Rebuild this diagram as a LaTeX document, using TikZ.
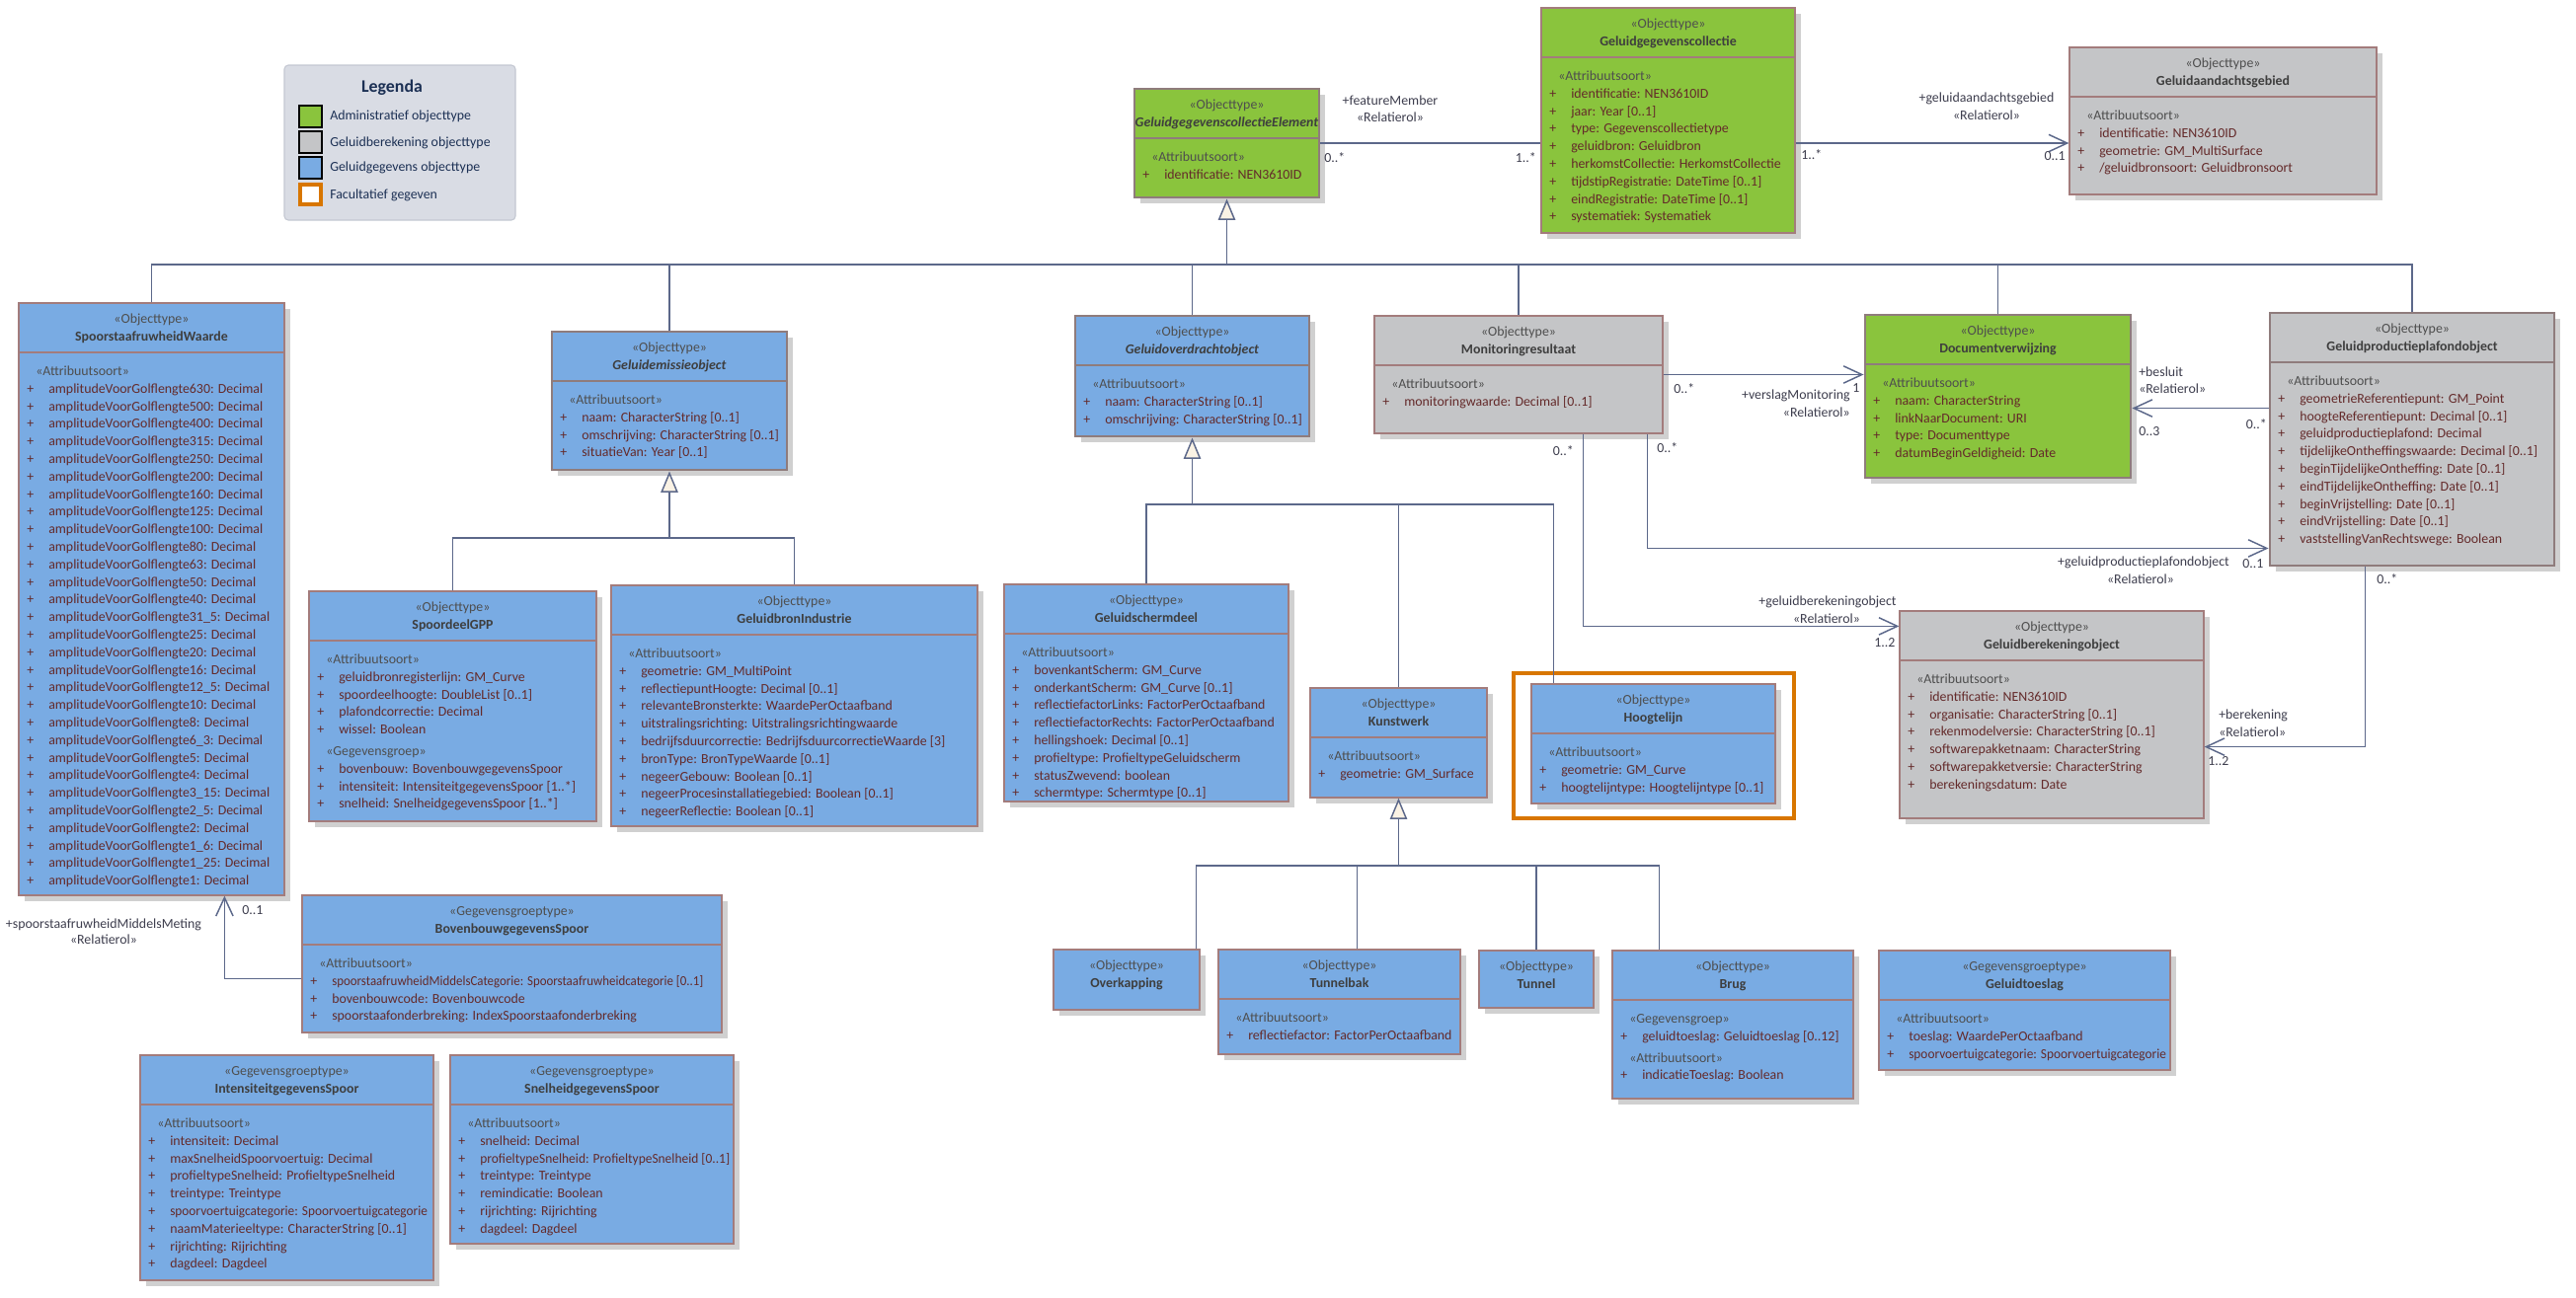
\documentclass[tikz,border=0pt]{standalone}
\usepackage{fontspec}
\setmainfont{Carlito}
\usetikzlibrary{arrows.meta,fit,calc}
\definecolor{cblue}{RGB}{121,171,227}
\definecolor{cgreen}{RGB}{138,196,61}
\definecolor{cgray}{RGB}{196,197,199}
\definecolor{cborder}{RGB}{163,124,124}
\definecolor{cthick}{RGB}{143,124,124}
\definecolor{cshadow}{RGB}{208,208,208}
\definecolor{cline}{RGB}{92,104,138}
\definecolor{cattr}{RGB}{100,42,42}
\definecolor{cster}{RGB}{78,78,78}
\definecolor{cname}{RGB}{62,62,62}
\definecolor{clabel}{RGB}{62,62,78}
\definecolor{corange}{RGB}{216,118,0}
\definecolor{ctri}{RGB}{250,242,228}
\definecolor{clegbg}{RGB}{217,220,228}
\definecolor{clegbd}{RGB}{196,200,210}
\definecolor{clegtx}{RGB}{28,48,84}
\newcount\lblcnt
\newcommand\cls[9]{%
  \fill[cshadow] (#3+6,#4+6) rectangle (#5+6,#6+6);
  \node[fit={(#3,#4) (#5,#6)}, boxb, #2] (#1) {};
  \ifnum#9=1\relax \draw[boxb,#2,fill=none] (#3,#4+50) -- (#5,#4+50);\fi
  \global\advance\lblcnt by 1
  \node[ster] (h\the\lblcnt) at ({(#3+#5)/2},#4+20.5) {«#7»};
  \node[namet] (n\the\lblcnt) at ({(#3+#5)/2},#4+38.5) {#8};
  \def\lx{#3}\pgfmathsetmacro\ly{#4+73.5}%
}
\newcommand\St[1]{\global\advance\lblcnt by 1
  \node[sterl] (s\the\lblcnt) at (\lx+17,\ly) {«#1»};
  \pgfmathsetmacro\ly{\ly+17.8}}
\newcommand\At[1]{\global\advance\lblcnt by 1
  \node[plus] (p\the\lblcnt) at (\lx+8,\ly) {+};
  \node[attr] (a\the\lblcnt) at (\lx+30,\ly) {#1};
  \pgfmathsetmacro\ly{\ly+17.8}}
\newcommand\As[2]{\At{\scalebox{#1}[1]{#2}}}
\newcommand\Gp[1]{\pgfmathsetmacro\ly{\ly+#1}}
\newcommand\lab[4]{\global\advance\lblcnt by 1
  \node[lbl,anchor=#1] (q\the\lblcnt) at (#2,#3) {#4};}
\begin{document}
\begin{tikzpicture}[x=0.75pt,y=-0.75pt,
  every node/.style={font=\fontsize{10.4}{12}\selectfont, inner sep=0pt},
  boxb/.style={draw=cborder, line width=0.9pt},
  thickb/.style={draw=cthick, line width=2.2pt},
  ster/.style={anchor=base, text=cster},
  namet/.style={anchor=base, text=cname, font=\fontsize{10.4}{12}\selectfont\bfseries},
  sterl/.style={anchor=base west, text=cster},
  plus/.style={anchor=base west, text=cattr},
  attr/.style={anchor=base west, text=cattr},
  lbl/.style={text=clabel},
  conn/.style={draw=cline, line width=1.1pt},
  assoc/.style={conn, -{Straight Barb[length=14pt,width=13pt]}},
  gen/.style={conn, -{Triangle[length=16pt,width=13pt,fill=ctri]}}]
\fill[white] (0,0) rectangle (2609,1314);
\useasboundingbox (0,0) rectangle (2609,1314);

% ---------- legend ----------
\node[fit={(288,66) (522,223)}, fill=clegbg, draw=clegbd, line width=0.8pt, rounded corners=3pt] (legend) {};
\node[anchor=base, text=clegtx, font=\fontsize{13.4}{15}\selectfont\bfseries] (legtitle) at (397,93) {Legenda};
\node[fit={(303,107) (326,129)}, fill=cgreen, draw=black, line width=1.1pt] (sw1) {};
\node[fit={(303,133) (326,155)}, fill=cgray, draw=black, line width=1.1pt] (sw2) {};
\node[fit={(303,159) (326,181)}, fill=cblue, draw=black, line width=1.1pt] (sw3) {};
\node[fit={(304,187) (325,207)}, fill=white, draw=corange, line width=2.4pt] (sw4) {};
\node[anchor=base west, text=clegtx] (lg1) at (334,121.5) {Administratief objecttype};
\node[anchor=base west, text=clegtx] (lg2) at (334,148.5) {Geluidberekening objecttype};
\node[anchor=base west, text=clegtx] (lg3) at (334,173.5) {Geluidgegevens objecttype};
\node[anchor=base west, text=clegtx] (lg4) at (334,201.5) {Facultatief gegeven};

% ---------- classes ----------
\cls{spoor}{fill=cblue}{19}{307}{288}{907}{Objecttype}{SpoorstaafruwheidWaarde}{1}
\St{Attribuutsoort}
\At{amplitudeVoorGolflengte630: Decimal}
\At{amplitudeVoorGolflengte500: Decimal}
\At{amplitudeVoorGolflengte400: Decimal}
\At{amplitudeVoorGolflengte315: Decimal}
\At{amplitudeVoorGolflengte250: Decimal}
\At{amplitudeVoorGolflengte200: Decimal}
\At{amplitudeVoorGolflengte160: Decimal}
\At{amplitudeVoorGolflengte125: Decimal}
\At{amplitudeVoorGolflengte100: Decimal}
\At{amplitudeVoorGolflengte80: Decimal}
\At{amplitudeVoorGolflengte63: Decimal}
\At{amplitudeVoorGolflengte50: Decimal}
\At{amplitudeVoorGolflengte40: Decimal}
\At{amplitudeVoorGolflengte31\_5: Decimal}
\At{amplitudeVoorGolflengte25: Decimal}
\At{amplitudeVoorGolflengte20: Decimal}
\At{amplitudeVoorGolflengte16: Decimal}
\At{amplitudeVoorGolflengte12\_5: Decimal}
\At{amplitudeVoorGolflengte10: Decimal}
\At{amplitudeVoorGolflengte8: Decimal}
\At{amplitudeVoorGolflengte6\_3: Decimal}
\At{amplitudeVoorGolflengte5: Decimal}
\At{amplitudeVoorGolflengte4: Decimal}
\At{amplitudeVoorGolflengte3\_15: Decimal}
\At{amplitudeVoorGolflengte2\_5: Decimal}
\At{amplitudeVoorGolflengte2: Decimal}
\At{amplitudeVoorGolflengte1\_6: Decimal}
\At{amplitudeVoorGolflengte1\_25: Decimal}
\At{amplitudeVoorGolflengte1: Decimal}

\cls{emissie}{fill=cblue,thickb}{559}{336}{797}{476}{Objecttype}{\textit{Geluidemissieobject}}{1}
\St{Attribuutsoort}
\At{naam: CharacterString [0..1]}
\At{omschrijving: CharacterString [0..1]}
\At{situatieVan: Year [0..1]}

\cls{gpp}{fill=cblue}{313}{599}{604}{832}{Objecttype}{SpoordeelGPP}{1}
\St{Attribuutsoort}
\At{geluidbronregisterlijn: GM\_Curve}
\At{spoordeelhoogte: DoubleList [0..1]}
\At{plafondcorrectie: Decimal}
\At{wissel: Boolean}
\Gp{4}
\St{Gegevensgroep}
\At{bovenbouw: BovenbouwgegevensSpoor}
\At{intensiteit: IntensiteitgegevensSpoor [1..*]}
\At{snelheid: SnelheidgegevensSpoor [1..*]}

\cls{industrie}{fill=cblue}{619}{593}{990}{837}{Objecttype}{GeluidbronIndustrie}{1}
\St{Attribuutsoort}
\At{geometrie: GM\_MultiPoint}
\At{reflectiepuntHoogte: Decimal [0..1]}
\At{relevanteBronsterkte: WaardePerOctaafband}
\At{uitstralingsrichting: Uitstralingsrichtingwaarde}
\At{bedrijfsduurcorrectie: BedrijfsduurcorrectieWaarde [3]}
\At{bronType: BronTypeWaarde [0..1]}
\At{negeerGebouw: Boolean [0..1]}
\At{negeerProcesinstallatiegebied: Boolean [0..1]}
\At{negeerReflectie: Boolean [0..1]}

\cls{overdracht}{fill=cblue,thickb}{1089}{320}{1326}{442}{Objecttype}{\textit{Geluidoverdrachtobject}}{1}
\St{Attribuutsoort}
\At{naam: CharacterString [0..1]}
\At{omschrijving: CharacterString [0..1]}

\cls{scherm}{fill=cblue}{1017}{592}{1305}{812}{Objecttype}{Geluidschermdeel}{1}
\St{Attribuutsoort}
\At{bovenkantScherm: GM\_Curve}
\At{onderkantScherm: GM\_Curve [0..1]}
\At{reflectiefactorLinks: FactorPerOctaafband}
\At{reflectiefactorRechts: FactorPerOctaafband}
\At{hellingshoek: Decimal [0..1]}
\At{profieltype: ProfieltypeGeluidscherm}
\At{statusZwevend: boolean}
\At{schermtype: Schermtype [0..1]}

\cls{kunstwerk}{fill=cblue}{1327}{697}{1506}{808}{Objecttype}{Kunstwerk}{1}
\St{Attribuutsoort}
\At{geometrie: GM\_Surface}

\node[fit={(1533,682) (1817,829)}, draw=corange, line width=3pt] (facframe) {};
\cls{hoogtelijn}{fill=cblue}{1551}{693}{1798}{814}{Objecttype}{Hoogtelijn}{1}
\St{Attribuutsoort}
\At{geometrie: GM\_Curve}
\At{hoogtelijntype: Hoogtelijntype [0..1]}

\cls{ggce}{fill=cgreen,thickb}{1149}{90}{1336}{200}{Objecttype}{\textit{GeluidgegevenscollectieElement}}{1}
\St{Attribuutsoort}
\At{identificatie: NEN3610ID}

\cls{collectie}{fill=cgreen}{1561}{8}{1818}{236}{Objecttype}{Geluidgegevenscollectie}{1}
\St{Attribuutsoort}
\At{identificatie: NEN3610ID}
\At{jaar: Year [0..1]}
\At{type: Gegevenscollectietype}
\At{geluidbron: Geluidbron}
\At{herkomstCollectie: HerkomstCollectie}
\At{tijdstipRegistratie: DateTime [0..1]}
\At{eindRegistratie: DateTime [0..1]}
\At{systematiek: Systematiek}

\cls{aandacht}{fill=cgray}{2096}{48}{2407}{197}{Objecttype}{Geluidaandachtsgebied}{1}
\St{Attribuutsoort}
\At{identificatie: NEN3610ID}
\At{geometrie: GM\_MultiSurface}
\At{/geluidbronsoort: Geluidbronsoort}

\cls{monitoring}{fill=cgray}{1392}{320}{1684}{439}{Objecttype}{Monitoringresultaat}{1}
\St{Attribuutsoort}
\At{monitoringwaarde: Decimal [0..1]}

\cls{document}{fill=cgreen,thickb}{1889}{319}{2158}{484}{Objecttype}{Documentverwijzing}{1}
\St{Attribuutsoort}
\At{naam: CharacterString}
\At{linkNaarDocument: URI}
\At{type: Documenttype}
\At{datumBeginGeldigheid: Date}

\cls{plafond}{fill=cgray,thickb}{2299}{317}{2587}{573}{Objecttype}{Geluidproductieplafondobject}{1}
\St{Attribuutsoort}
\At{geometrieReferentiepunt: GM\_Point}
\At{hoogteReferentiepunt: Decimal [0..1]}
\At{geluidproductieplafond: Decimal}
\At{tijdelijkeOntheffingswaarde: Decimal [0..1]}
\At{beginTijdelijkeOntheffing: Date [0..1]}
\At{eindTijdelijkeOntheffing: Date [0..1]}
\At{beginVrijstelling: Date [0..1]}
\At{eindVrijstelling: Date [0..1]}
\At{vaststellingVanRechtswege: Boolean}

\cls{berekening}{fill=cgray}{1924}{619}{2232}{829}{Objecttype}{Geluidberekeningobject}{1}
\St{Attribuutsoort}
\At{identificatie: NEN3610ID}
\At{organisatie: CharacterString [0..1]}
\At{rekenmodelversie: CharacterString [0..1]}
\At{softwarepakketnaam: CharacterString}
\At{softwarepakketversie: CharacterString}
\At{berekeningsdatum: Date}

\cls{bovenbouw}{fill=cblue}{306}{907}{731}{1046}{Gegevensgroeptype}{BovenbouwgegevensSpoor}{1}
\St{Attribuutsoort}
\As{0.93}{spoorstaafruwheidMiddelsCategorie: Spoorstaafruwheidcategorie [0..1]}
\At{bovenbouwcode: Bovenbouwcode}
\At{spoorstaafonderbreking: IndexSpoorstaafonderbreking}

\cls{intensiteit}{fill=cblue}{142}{1069}{439}{1297}{Gegevensgroeptype}{IntensiteitgegevensSpoor}{1}
\St{Attribuutsoort}
\At{intensiteit: Decimal}
\At{maxSnelheidSpoorvoertuig: Decimal}
\At{profieltypeSnelheid: ProfieltypeSnelheid}
\At{treintype: Treintype}
\As{0.96}{spoorvoertuigcategorie: Spoorvoertuigcategorie}
\At{naamMaterieeltype: CharacterString [0..1]}
\At{rijrichting: Rijrichting}
\At{dagdeel: Dagdeel}

\cls{snelheid}{fill=cblue}{456}{1069}{743}{1260}{Gegevensgroeptype}{SnelheidgegevensSpoor}{1}
\St{Attribuutsoort}
\At{snelheid: Decimal}
\As{0.97}{profieltypeSnelheid: ProfieltypeSnelheid [0..1]}
\At{treintype: Treintype}
\At{remindicatie: Boolean}
\At{rijrichting: Rijrichting}
\At{dagdeel: Dagdeel}

\cls{overkapping}{fill=cblue}{1067}{962}{1215}{1023}{Objecttype}{Overkapping}{0}

\cls{tunnelbak}{fill=cblue}{1234}{962}{1479}{1068}{Objecttype}{Tunnelbak}{1}
\St{Attribuutsoort}
\At{reflectiefactor: FactorPerOctaafband}

\cls{tunnel}{fill=cblue}{1498}{963}{1614}{1021}{Objecttype}{Tunnel}{0}

\cls{brug}{fill=cblue}{1633}{963}{1877}{1113}{Objecttype}{Brug}{1}
\St{Gegevensgroep}
\At{geluidtoeslag: Geluidtoeslag [0..12]}
\Gp{4}
\St{Attribuutsoort}
\At{indicatieToeslag: Boolean}

\cls{toeslag}{fill=cblue}{1903}{963}{2198}{1084}{Gegevensgroeptype}{Geluidtoeslag}{1}
\St{Attribuutsoort}
\At{toeslag: WaardePerOctaafband}
\As{0.96}{spoorvoertuigcategorie: Spoorvoertuigcategorie}

% ---------- generalization trees ----------
\coordinate (bus) at (0,268);
\draw[conn] (spoor.north) -- (spoor.north |- bus) -- (plafond.north |- bus) -- (plafond.north);
\draw[conn] (emissie.north |- bus) -- (emissie.north);
\draw[conn] (overdracht.north |- bus) -- (overdracht.north);
\draw[conn] (monitoring.north |- bus) -- (monitoring.north);
\draw[conn] (document.north |- bus) -- (document.north);
\draw[gen] (ggce.south |- bus) -- (ggce.south);

\coordinate (bus2) at (0,545);
\draw[conn] (gpp.north) -- (gpp.north |- bus2) -- (industrie.north |- bus2) -- (industrie.north);
\draw[gen] (emissie.south |- bus2) -- (emissie.south);

\coordinate (bus3) at (0,511);
\coordinate (hl) at ($(hoogtelijn.north west)+(23,0)$);
\draw[conn] (scherm.north) -- (scherm.north |- bus3) -- (hl |- bus3) -- (hl);
\draw[conn] (kunstwerk.north) -- (kunstwerk.north |- bus3);
\draw[gen] (overdracht.south |- bus3) -- (overdracht.south);

\coordinate (bus4) at (0,877);
\coordinate (ok) at ($(overkapping.north east)+(-4,0)$);
\coordinate (tb) at ($(tunnelbak.north west)+(141,0)$);
\coordinate (br) at ($(brug.north west)+(48,0)$);
\draw[conn] (ok) -- (ok |- bus4) -- (br |- bus4) -- (br);
\draw[conn] (tb) -- (tb |- bus4);
\draw[conn] (tunnel.north) -- (tunnel.north |- bus4);
\draw[gen] (kunstwerk.south |- bus4) -- (kunstwerk.south);

% ---------- associations ----------
\draw[conn] (ggce.east) -- (collectie.west |- ggce.east);
\lab{base}{1408}{106.5}{+featureMember}
\lab{base}{1408}{123.5}{«Relatierol»}
\lab{base west}{1341}{164.5}{0..*}
\lab{base east}{1556}{164.5}{1..*}

\draw[assoc] (collectie.east |- ggce.east) -- (aandacht.west |- ggce.east);
\lab{base west}{1824}{161.5}{1..*}
\lab{base}{2012}{103.5}{+geluidaandachtsgebied}
\lab{base}{2012}{121.5}{«Relatierol»}
\lab{base east}{2092}{162.5}{0..1}

\draw[assoc] (monitoring.east) -- (document.west |- monitoring.east);
\lab{base west}{1695}{398.5}{0..*}
\lab{base west}{1876}{397}{1}
\lab{base east}{1874}{404.5}{+verslagMonitoring}
\lab{base east}{1874}{422.5}{«Relatierol»}

\coordinate (pd) at ($(plafond.north west)+(0,98)$);
\draw[assoc] (pd) -- (document.east |- pd);
\lab{base west}{2166}{381.5}{+besluit}
\lab{base west}{2166}{398.5}{«Relatierol»}
\lab{base west}{2166}{441.5}{0..3}
\lab{base east}{2296}{434.5}{0..*}

\coordinate (m1) at ($(monitoring.south east)+(-16,0)$);
\coordinate (p1) at ($(plafond.south west)+(0,-19)$);
\draw[assoc] (m1) |- (p1);
\lab{base west}{1678}{458.5}{0..*}
\lab{base}{2171}{573.5}{+geluidproductieplafondobject}
\lab{base}{2168}{591.5}{«Relatierol»}
\lab{base west}{2271}{575.5}{0..1}

\coordinate (m2) at ($(monitoring.south west)+(212,0)$);
\coordinate (b1) at ($(berekening.north west)+(0,16)$);
\draw[assoc] (m2) |- (b1);
\lab{base east}{1594}{461.5}{0..*}
\lab{base}{1851}{613.5}{+geluidberekeningobject}
\lab{base}{1850}{631.5}{«Relatierol»}
\lab{base west}{1898}{655.5}{1..2}

\coordinate (p2) at ($(plafond.south west)+(98,0)$);
\coordinate (b2) at ($(berekening.south east)+(0,-73)$);
\draw[assoc] (p2) |- (b2);
\lab{base west}{2407}{591.5}{0..*}
\lab{base west}{2247}{728.5}{+berekening}
\lab{base west}{2247}{746.5}{«Relatierol»}
\lab{base west}{2236}{775.5}{1..2}

\coordinate (bb) at ($(bovenbouw.north west)+(0,85)$);
\coordinate (sp) at ($(spoor.south west)+(209,0)$);
\draw[assoc] (bb) -| (sp);
\lab{base west}{245}{926.5}{0..1}
\lab{base}{105}{940.5}{+spoorstaafruwheidMiddelsMeting}
\lab{base}{105}{956.5}{«Relatierol»}
\end{tikzpicture}
\end{document}
